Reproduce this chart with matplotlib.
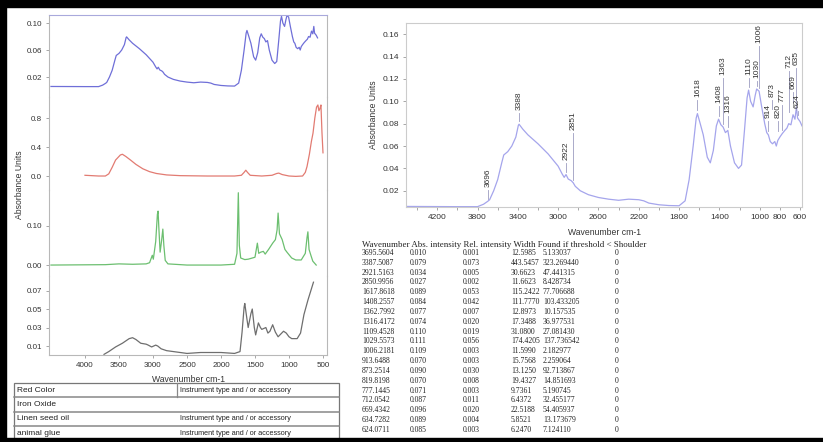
import matplotlib
matplotlib.use("Agg")
import matplotlib.pyplot as plt
from matplotlib.patches import Rectangle
from matplotlib.ticker import FormatStrFormatter

W, H = 823, 442

# sample spectrum (right panel, also top trace on the left)
sample_wn = [4500, 4000, 3800, 3740, 3700, 3680, 3640, 3600, 3560, 3540, 3500, 3460, 3420,
             3395, 3388, 3350, 3300, 3200, 3100, 3000, 2960, 2940, 2922, 2900, 2870, 2851,
             2830, 2780, 2700, 2600, 2500, 2400, 2300, 2200, 2150, 2100, 2000, 1900, 1800,
             1740, 1700, 1660, 1630, 1618, 1590, 1560, 1520, 1490, 1460, 1430, 1408, 1385,
             1363, 1340, 1316, 1290, 1250, 1210, 1180, 1150, 1125, 1110, 1090, 1065, 1045,
             1030, 1006, 980, 950, 930, 914, 895, 873, 850, 835, 820, 800, 777, 750, 730,
             712, 690, 669, 650, 635, 624, 600, 580]
sample_abs = [0.0060, 0.0058, 0.0058, 0.0080, 0.0105, 0.0120, 0.0200, 0.0300, 0.0450, 0.0520,
              0.0550, 0.0600, 0.0680, 0.0785, 0.0795, 0.0750, 0.0700, 0.0620, 0.0530, 0.0420,
              0.0350, 0.0320, 0.0345, 0.0305, 0.0290, 0.0272, 0.0240, 0.0200, 0.0165, 0.0140,
              0.0125, 0.0115, 0.0125, 0.0120, 0.0110, 0.0090, 0.0075, 0.0068, 0.0066, 0.0110,
              0.0300, 0.0600, 0.0850, 0.0890, 0.0800, 0.0700, 0.0500, 0.0450, 0.0560, 0.0780,
              0.0840, 0.0790, 0.0770, 0.0720, 0.0740, 0.0600, 0.0450, 0.0400, 0.0430, 0.0750,
              0.1030, 0.1100, 0.1000, 0.0950, 0.1050, 0.1110, 0.1090, 0.0950, 0.0800, 0.0720,
              0.0700, 0.0640, 0.0620, 0.0640, 0.0600, 0.0650, 0.0680, 0.0710, 0.0740, 0.0760,
              0.0800, 0.0790, 0.0880, 0.0840, 0.0950, 0.0850, 0.0820, 0.0780]

# iron oxide
oxide_wn = [4000, 3800, 3700, 3650, 3600, 3550, 3480, 3450, 3400, 3330, 3250, 3150, 3050,
            2950, 2800, 2600, 2200, 1800, 1700, 1660, 1635, 1610, 1570, 1400, 1250, 1180,
            1150, 1100, 1000, 900, 800, 760, 735, 700, 670, 647, 620, 595, 575, 560, 545,
            530, 515, 500]
oxide_abs = [0.01, 0.0, 0.0, 0.03, 0.12, 0.22, 0.29, 0.30, 0.27, 0.22, 0.16, 0.10, 0.06,
             0.035, 0.015, 0.005, 0.0, 0.0, 0.01, 0.05, 0.08, 0.05, 0.01, 0.0, 0.01, 0.035,
             0.04, 0.02, 0.0, -0.005, 0.0, 0.05, 0.13, 0.30, 0.48, 0.59, 0.80, 0.95, 0.98,
             0.90, 0.93, 0.98, 0.60, 0.32]

# linen seed oil
oil_wn = [4500, 3700, 3500, 3300, 3100, 3050, 3010, 2995, 2960, 2935, 2925, 2915, 2895,
          2875, 2855, 2840, 2820, 2780, 2500, 2000, 1800, 1765, 1745, 1730, 1710, 1650,
          1600, 1500, 1465, 1445, 1415, 1377, 1350, 1300, 1240, 1200, 1175, 1160, 1140,
          1100, 1060, 1030, 960, 900, 820, 760, 735, 722, 705, 680, 650, 600]
oil_abs = [0.0, 0.001, 0.003, 0.002, 0.003, 0.006, 0.025, 0.015, 0.06, 0.13, 0.138, 0.10,
           0.033, 0.06, 0.092, 0.05, 0.012, 0.003, 0.0, 0.0, 0.002, 0.03, 0.185, 0.05, 0.018,
           0.014, 0.015, 0.02, 0.056, 0.03, 0.033, 0.035, 0.028, 0.04, 0.056, 0.065, 0.09,
           0.133, 0.08, 0.065, 0.04, 0.033, 0.018, 0.013, 0.013, 0.03, 0.07, 0.085, 0.04,
           0.026, 0.01, 0.0]

# animal glue
glue_wn = [3720, 3650, 3550, 3450, 3350, 3300, 3250, 3180, 3100, 3070, 3020, 2960, 2930,
           2880, 2800, 2700, 2500, 2300, 2100, 2000, 1800, 1720, 1690, 1660, 1650, 1620,
           1600, 1560, 1540, 1510, 1490, 1450, 1420, 1400, 1340, 1310, 1280, 1240, 1200,
           1160, 1080, 1040, 1000, 960, 880, 830, 780, 720, 640]
glue_abs = [0.001, 0.004, 0.009, 0.013, 0.018, 0.019, 0.017, 0.013, 0.012, 0.011, 0.009,
            0.011, 0.010, 0.007, 0.005, 0.004, 0.002, 0.003, 0.003, 0.003, 0.002, 0.004,
            0.025, 0.052, 0.056, 0.040, 0.030, 0.045, 0.050, 0.030, 0.022, 0.035, 0.030,
            0.028, 0.030, 0.024, 0.026, 0.033, 0.025, 0.020, 0.026, 0.024, 0.020, 0.018,
            0.018, 0.024, 0.044, 0.060, 0.079]

# peak table
peak_wn = [3695.5604, 3387.5087, 2921.5163, 2850.9956, 1617.8618, 1408.2557, 1362.7992,
           1316.4172, 1109.4528, 1029.5573, 1006.2181, 913.6488, 873.2514, 819.8198,
           777.1445, 712.0542, 669.4342, 634.7282, 624.0711]
peak_names = ["3696", "3388", "2922", "2851", "1618", "1408", "1363", "1316", "1110", "1030",
              "1006", "914", "873", "820", "777", "712", "669", "635", "624"]
abs_int = [0.010, 0.079, 0.034, 0.027, 0.089, 0.084, 0.077, 0.074, 0.110, 0.111, 0.109,
           0.070, 0.090, 0.070, 0.071, 0.087, 0.096, 0.089, 0.085]
rel_int = [0.001, 0.073, 0.005, 0.002, 0.053, 0.042, 0.007, 0.020, 0.019, 0.056, 0.003,
           0.003, 0.030, 0.008, 0.003, 0.011, 0.020, 0.004, 0.003]
widths = ["12.5985", "443.5457", "30.6623", "11.6623", "115.2422", "111.7770", "12.8973",
          "17.3488", "31.0800", "174.4205", "11.5990", "15.7568", "13.1250", "19.4327",
          "9.7361", "6.4372", "22.5188", "5.8521", "6.2470"]
found = ["5.133037", "323.269440", "47.441315", "8.428734", "77.706688", "103.433205",
         "10.157535", "36.977531", "27.081430", "137.736542", "2.182977", "2.259064",
         "92.713867", "14.851693", "5.190745", "32.455177", "54.405937", "13.173679",
         "7.124110"]
shoulder = [0] * 19
# height of each peak label (bottom of text), in absorbance units
label_y = [0.0236, 0.0923, 0.0477, 0.0745, 0.1039, 0.0986, 0.1236, 0.0896, 0.1236, 0.121,
           0.152, 0.085, 0.104, 0.085, 0.0995, 0.130, 0.111, 0.1325, 0.094]

samples = ["Red Color", "Iron Oxide", "Linen seed oil", "animal glue"]
instr = ["Instrument type and / or accessory", "", "Instrument type and / or accessory",
         "Instrument type and / or accessory"]

SANS = "Liberation Sans"
SERIF = "Liberation Serif"
plt.rcParams["font.family"] = SANS


def px_rect(left, top, right, bottom):
    return [left / W, 1 - bottom / H, (right - left) / W, (bottom - top) / H]


fig = plt.figure(figsize=(W / 100, H / 100), dpi=100)
fig.patch.set_facecolor("white")

spine_c = "#b8b8b8"

# ---- left: stacked spectra
stack = [
    (sample_wn, sample_abs, "#6f6fd8", (-0.0096, 0.1119), [0.02, 0.06, 0.10], "%.2f", 15, 97),
    (oxide_wn, oxide_abs, "#e27b72", (-0.193, 1.09), [0.0, 0.4, 0.8], "%.1f", 97, 190),
    (oil_wn, oil_abs, "#6cbf70", (-0.028, 0.192), [0.0, 0.10], "%.2f", 190, 276),
    (glue_wn, glue_abs, "#6e6e6e", (0.0003, 0.0857), [0.01, 0.03, 0.05, 0.07], "%.2f", 276, 355),
]
for i, (wn, ab, col, ylim, yt, fmt, top, bot) in enumerate(stack):
    ax = fig.add_axes(px_rect(49, top, 327, bot))
    ax.patch.set_alpha(0)
    ax.plot(wn, ab, color=col, lw=0.9)
    ax.set_xlim(4529, 441)
    ax.set_ylim(*ylim)
    ax.set_yticks(yt)
    ax.yaxis.set_major_formatter(FormatStrFormatter(fmt))
    for s in ax.spines.values():
        s.set_color(spine_c)
        s.set_linewidth(0.8)
    ax.spines["top"].set_visible(i == 0)
    ax.spines["bottom"].set_visible(i == len(stack) - 1)
    if i == 0:
        ax.spines["top"].set_color("#a9a9dc")
    ax.tick_params(axis="y", length=2.5, width=0.6, color="#999999", labelsize=5.8,
                   labelcolor="#333333", pad=2.5)
    if i == len(stack) - 1:
        ax.set_xticks([4000, 3500, 3000, 2500, 2000, 1500, 1000, 500])
        ax.tick_params(axis="x", length=2.5, width=0.6, color="#999999", labelsize=5.8,
                       labelcolor="#333333", pad=2.5)
        ax.set_xlabel("Wavenumber cm-1", fontsize=6.2, color="#333333", labelpad=4.5)
    else:
        ax.tick_params(axis="x", bottom=False, labelbottom=False)

fig.text(20 / W, 1 - 185 / H, "Absorbance Units", rotation=90, ha="center", va="center",
         fontsize=6.2, color="#333333")

# ---- right: sample spectrum with peak labels
axr = fig.add_axes(px_rect(406, 23, 802, 207))
axr.plot(sample_wn, sample_abs, color="#a5a5ec", lw=0.9)
axr.set_xlim(4510, 580)
axr.set_ylim(0.0055, 0.17)
axr.set_yticks([0.02, 0.04, 0.06, 0.08, 0.10, 0.12, 0.14, 0.16])
axr.yaxis.set_major_formatter(FormatStrFormatter("%.2f"))
axr.set_xticks([4200, 3800, 3400, 3000, 2600, 2200, 1800, 1400, 1000, 800, 600])
axr.set_xticks([4400, 4000, 3600, 3200, 2800, 2400, 2000, 1600, 1200], minor=True)
for s in axr.spines.values():
    s.set_color("#cccccc")
    s.set_linewidth(0.8)
axr.tick_params(which="both", length=2.5, width=0.6, color="#999999", labelsize=6,
                labelcolor="#333333", pad=2.5)
axr.set_xlabel("Wavenumber cm-1", fontsize=6.2, color="#333333", labelpad=5)
axr.set_ylabel("Absorbance Units", fontsize=6.2, color="#333333", labelpad=3)

for wn, name, pa, ly in zip(peak_wn, peak_names, abs_int, label_y):
    axr.text(wn, ly, name, rotation=90, ha="center", va="bottom",
             fontsize=6, color="#333333")
    axr.plot([wn, wn], [ly - 0.003, pa + 0.003], color="#9c9cc0", lw=0.6)

# ---- tables and frame, drawn in pixel coordinates
ov = fig.add_axes([0, 0, 1, 1], zorder=10)
ov.set_xlim(0, W)
ov.set_ylim(H, 0)
ov.axis("off")
ov.patch.set_alpha(0)

# sample table
row_tops = [383, 397, 412, 426, 441]
ov.add_patch(Rectangle((14, 383), 325, 58, fill=False, ec="#777777", lw=0.9))
for y in row_tops[1:-1]:
    ov.plot([14, 339], [y, y], color="#888888", lw=1.1)
ov.plot([177, 177], [383, 397], color="#888888", lw=0.9)
for k, (name, ins) in enumerate(zip(samples, instr)):
    yc = (row_tops[k] + row_tops[k + 1]) / 2
    ov.text(17, yc, name, fontsize=6, va="center", ha="left", color="#222222")
    if ins:
        ov.text(180, yc, ins, fontsize=5.2, va="center", ha="left", color="#222222")

# peak table
ov.text(362, 245, "Wavenumber Abs. intensity Rel. intensity Width Found if threshold < Shoulder",
        fontsize=6.4, family=SERIF, va="center", ha="left", color="#222222")
cols = [362, 410, 463, 511, 543, 615]
for k in range(len(peak_wn)):
    yc = 253 + k * 9.83
    cells = ["%.4f" % peak_wn[k], "%.3f" % abs_int[k], "%.3f" % rel_int[k], widths[k],
             found[k], str(shoulder[k])]
    for x, c in zip(cols, cells):
        ov.text(x, yc, c, fontsize=5.5, family=SERIF, va="center", ha="left", color="#222222")

# black frame
ov.add_patch(Rectangle((0, 0), W, 7, color="black"))
ov.add_patch(Rectangle((0, 0), 6, H, color="black"))
ov.add_patch(Rectangle((0, 438), W, 4, color="black"))

fig.savefig("out.png", dpi=100)
